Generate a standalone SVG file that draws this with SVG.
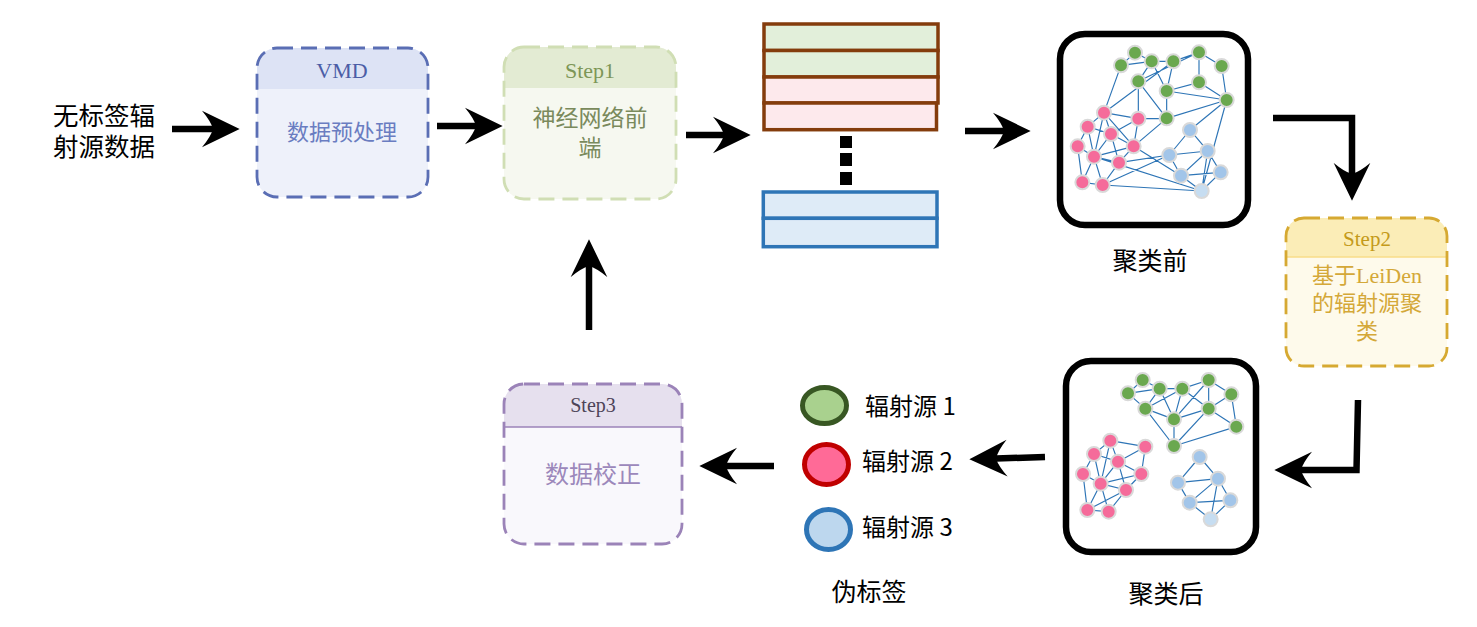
<svg xmlns="http://www.w3.org/2000/svg" width="1477" height="627" viewBox="0 0 1477 627">
<defs>
<marker id="ah" markerUnits="userSpaceOnUse" markerWidth="40" markerHeight="40" viewBox="0 0 36 36" refX="10" refY="17" orient="auto">
<path d="M34 17 L0 0.5 Q8 10 10 17 Q8 24 0 33.5 Z" fill="#000"/>
</marker>
<style>
.t{font-family:"Noto Sans CJK SC","Noto Sans",sans-serif;fill:#000}
.ti{font-family:"Liberation Sans","Noto Sans CJK SC",sans-serif;fill:#000}
.s{font-family:"Liberation Serif","Noto Sans CJK SC",serif;text-anchor:middle}
.c{fill:none;stroke:#000;stroke-width:6.5;marker-end:url(#ah)}
.dash{fill:none;stroke-width:2.8;stroke-dasharray:16 8}
.e{fill:none;stroke:#2e75b6;stroke-width:3.5}
.nd{stroke:#d9d9d9;stroke-width:6}
.g{fill:#6aa84f}.p{fill:#f56b9a}.b{fill:#a2c5e9}.bl{fill:#c6ddf1}
.frame{fill:#fff;stroke:#000;stroke-width:6.5}
</style>
</defs>
<rect width="1477" height="627" fill="#fff"/>

<g id="input-text">
<text class="ti" x="53" y="125" font-size="25.5">无标签辐</text>
<text class="ti" x="53" y="156" font-size="25.5">射源数据</text>
</g>

<g id="vmd">
<rect x="257" y="48" width="171" height="149" rx="20" fill="#eef1fa"/>
<path d="M257 89 V68 A20 20 0 0 1 277 48 H408 A20 20 0 0 1 428 68 V89 Z" fill="#dde3f5"/>
<rect class="dash" x="257" y="48" width="171" height="149" rx="20" stroke="#5a6eb4"/>
<text class="s" x="342" y="78" font-size="22" fill="#4b5da6">VMD</text>
<text class="s" x="342" y="140" font-size="22" fill="#6a7dc1">数据预处理</text>
</g>

<g id="step1">
<rect x="504" y="47" width="172" height="152" rx="20" fill="#f6f8f0"/>
<path d="M504 88 V67 A20 20 0 0 1 524 47 H656 A20 20 0 0 1 676 67 V88 Z" fill="#e3ebd3"/>
<rect class="dash" x="504" y="47" width="172" height="152" rx="20" stroke="#d0deb4"/>
<text class="s" x="590" y="78" font-size="22" fill="#7d9657">Step1</text>
<text class="s" font-size="23" fill="#7a8a5c"><tspan x="590" y="126">神经网络前</tspan><tspan x="590" y="156">端</tspan></text>
</g>

<g id="feature-stack">
<rect x="764" y="24" width="174" height="26.5" fill="#e2efda" stroke="#843c0c" stroke-width="3.5"/>
<rect x="764" y="50.5" width="174" height="26.5" fill="#e2efda" stroke="#843c0c" stroke-width="3.5"/>
<rect x="764" y="77" width="174" height="26" fill="#fde9ec" stroke="#843c0c" stroke-width="3.5"/>
<rect x="764" y="103" width="172.5" height="26.7" fill="#fde9ec" stroke="#843c0c" stroke-width="3.5"/>
<rect x="840" y="136" width="12" height="12" fill="#000"/>
<rect x="840" y="153" width="12" height="13" fill="#000"/>
<rect x="840" y="172" width="12" height="13" fill="#000"/>
<rect x="763.3" y="192" width="173.7" height="26.3" fill="#deebf7" stroke="#2e75b6" stroke-width="3.5"/>
<rect x="763.3" y="218.3" width="173.7" height="28.4" fill="#deebf7" stroke="#2e75b6" stroke-width="3.5"/>
</g>

<g id="before-cluster">
<rect class="frame" x="1060" y="34" width="188" height="191" rx="25"/>
<g transform="translate(1055,30) scale(0.33333)">
<path class="e" d="M240 68L198 106M240 68L290 94M198 106L290 94M290 94L355 94M355 94L432 67M432 67L500 108M290 94L335 183M250 154L290 94M250 154L432 67M432 67L432 157M355 94L335 183M335 183L432 157M432 157L515 210M500 108L515 210M335 183L515 210M250 154L335 265M335 183L335 265M515 210L335 265M250 154L250 266M250 266L335 265M147 248L198 106M147 248L355 94M515 210L405 300M515 210L440 483M335 265L236 349M236 349L378 437M192 398L343 375M143 465L343 375M143 465L440 483M117 380L440 483M147 248L250 266M147 248L98 290M147 248L168 312M147 248L117 380M147 248L236 349M250 266L236 349M250 266L168 312M98 290L168 312M98 290L68 349M98 290L117 380M168 312L117 380M168 312L192 398M168 312L236 349M68 349L117 380M68 349L82 457M117 380L82 457M117 380L143 465M117 380L192 398M117 380L236 349M192 398L143 465M82 457L143 465M192 398L236 349M405 300L458 363M405 300L343 375M343 375L458 363M343 375L378 437M458 363L378 437M458 363L497 427M458 363L440 483M378 437L497 427M378 437L440 483M497 427L440 483"/>
<g class="nd">
<circle class="g" cx="240" cy="68" r="21"/><circle class="g" cx="198" cy="106" r="21"/><circle class="g" cx="290" cy="94" r="21"/><circle class="g" cx="355" cy="94" r="21"/><circle class="g" cx="432" cy="67" r="21"/><circle class="g" cx="500" cy="108" r="21"/><circle class="g" cx="250" cy="154" r="21"/><circle class="g" cx="335" cy="183" r="21"/><circle class="g" cx="432" cy="157" r="21"/><circle class="g" cx="515" cy="210" r="21"/><circle class="g" cx="335" cy="265" r="21"/>
<circle class="p" cx="147" cy="248" r="21"/><circle class="p" cx="250" cy="266" r="21"/><circle class="p" cx="98" cy="290" r="21"/><circle class="p" cx="168" cy="312" r="21"/><circle class="p" cx="236" cy="349" r="21"/><circle class="p" cx="68" cy="349" r="21"/><circle class="p" cx="117" cy="380" r="21"/><circle class="p" cx="192" cy="398" r="21"/><circle class="p" cx="82" cy="457" r="21"/><circle class="p" cx="143" cy="465" r="21"/>
<circle class="b" cx="405" cy="300" r="21"/><circle class="b" cx="458" cy="363" r="21"/><circle class="b" cx="343" cy="375" r="21"/><circle class="b" cx="378" cy="437" r="21"/><circle class="b" cx="497" cy="427" r="21"/><circle class="bl" cx="440" cy="483" r="21"/>
</g>
</g>
<text class="t" x="1150" y="270" font-size="25" text-anchor="middle">聚类前</text>
</g>

<g id="step2">
<rect x="1286" y="218" width="161" height="148" rx="18" fill="#fefaeb"/>
<path d="M1286 257 V236 A18 18 0 0 1 1304 218 H1429 A18 18 0 0 1 1447 236 V257 Z" fill="#fbedb7"/>
<line x1="1287" y1="257" x2="1446" y2="257" stroke="#f8dc88" stroke-width="1.5"/>
<rect class="dash" x="1286" y="218" width="161" height="148" rx="18" stroke="#d6a932"/>
<text class="s" x="1367" y="246" font-size="21" fill="#c49a1a">Step2</text>
<text class="s" font-size="22" fill="#d4a838"><tspan x="1367" y="283">基于LeiDen</tspan><tspan x="1367" y="311">的辐射源聚</tspan><tspan x="1367" y="339">类</tspan></text>
</g>

<g id="after-cluster">
<rect class="frame" x="1066" y="361" width="190" height="191" rx="25"/>
<g transform="translate(1058,356) scale(0.33333)">
<path class="e" d="M254 72L210 112M254 72L305 98M210 112L305 98M305 98L373 98M373 98L452 72M452 72L520 115M210 112L262 158M305 98L262 158M305 98L348 190M262 158L348 190M262 158L373 98M373 98L348 190M452 72L348 190M452 72L452 158M373 98L452 158M348 190L452 158M520 115L452 158M520 115L535 212M452 158L535 212M262 158L348 270M348 190L348 270M452 158L348 270M535 212L348 270M157 254L262 272M157 254L108 294M157 254L180 317M157 254L128 383M262 272L180 317M262 272L250 354M108 294L180 317M108 294L75 354M108 294L128 383M180 317L250 354M180 317L128 383M180 317L204 402M250 354L204 402M250 354L128 383M75 354L128 383M75 354L88 462M128 383L88 462M128 383L152 467M128 383L204 402M204 402L152 467M88 462L152 467M88 462L204 402M425 303L480 368M425 303L360 380M360 380L480 368M360 380L395 440M480 368L395 440M480 368L517 433M480 368L458 490M395 440L517 433M395 440L458 490M517 433L458 490"/>
<g class="nd">
<circle class="g" cx="254" cy="72" r="21"/><circle class="g" cx="210" cy="112" r="21"/><circle class="g" cx="305" cy="98" r="21"/><circle class="g" cx="373" cy="98" r="21"/><circle class="g" cx="452" cy="72" r="21"/><circle class="g" cx="520" cy="115" r="21"/><circle class="g" cx="262" cy="158" r="21"/><circle class="g" cx="348" cy="190" r="21"/><circle class="g" cx="452" cy="158" r="21"/><circle class="g" cx="535" cy="212" r="21"/><circle class="g" cx="348" cy="270" r="21"/>
<circle class="p" cx="157" cy="254" r="21"/><circle class="p" cx="262" cy="272" r="21"/><circle class="p" cx="108" cy="294" r="21"/><circle class="p" cx="180" cy="317" r="21"/><circle class="p" cx="250" cy="354" r="21"/><circle class="p" cx="75" cy="354" r="21"/><circle class="p" cx="128" cy="383" r="21"/><circle class="p" cx="204" cy="402" r="21"/><circle class="p" cx="88" cy="462" r="21"/><circle class="p" cx="152" cy="467" r="21"/>
<circle class="b" cx="425" cy="303" r="21"/><circle class="b" cx="480" cy="368" r="21"/><circle class="b" cx="360" cy="380" r="21"/><circle class="b" cx="395" cy="440" r="21"/><circle class="b" cx="517" cy="433" r="21"/><circle class="bl" cx="458" cy="490" r="21"/>
</g>
</g>
<text class="t" x="1166" y="603" font-size="25" text-anchor="middle">聚类后</text>
</g>

<g id="pseudo-labels">
<ellipse cx="824.5" cy="405.5" rx="22" ry="18" fill="#a9d18e" stroke="#385723" stroke-width="5"/>
<ellipse cx="826.5" cy="464.5" rx="22" ry="20" fill="#ff6a97" stroke="#c00000" stroke-width="5"/>
<ellipse cx="828.5" cy="529.5" rx="22" ry="20" fill="#bdd7ee" stroke="#2e75b6" stroke-width="5"/>
<text class="t" x="865" y="415" font-size="24">辐射源 1</text>
<text class="t" x="862" y="470" font-size="24">辐射源 2</text>
<text class="t" x="862" y="536" font-size="24">辐射源 3</text>
<text class="t" x="869" y="601" font-size="25" text-anchor="middle">伪标签</text>
</g>

<g id="step3">
<rect x="504" y="384" width="178" height="160" rx="20" fill="#f9f8fc"/>
<path d="M504 427 V404 A20 20 0 0 1 524 384 H662 A20 20 0 0 1 682 404 V427 Z" fill="#e6e0ee"/>
<line x1="504" y1="427" x2="682" y2="427" stroke="#9b83b8" stroke-width="1.5"/>
<rect class="dash" x="504" y="384" width="178" height="160" rx="20" stroke="#9b83b8"/>
<text class="s" x="593" y="412" font-size="20" fill="#4d4458">Step3</text>
<text class="s" x="593" y="483" font-size="24" fill="#9c88bb">数据校正</text>
</g>

<g id="connectors">
<path class="c" d="M172 129 H213"/>
<path class="c" d="M437 126 H476"/>
<path class="c" d="M686 135 H724"/>
<path class="c" d="M965 131 H1004"/>
<path class="c" d="M1273 118 H1352 V174"/>
<path class="c" d="M1358 400 L1356.5 470 H1301"/>
<path class="c" d="M1045 457 L996 458.5"/>
<path class="c" d="M774 466 H726"/>
<path class="c" d="M589 330 V266"/>
</g>
</svg>
